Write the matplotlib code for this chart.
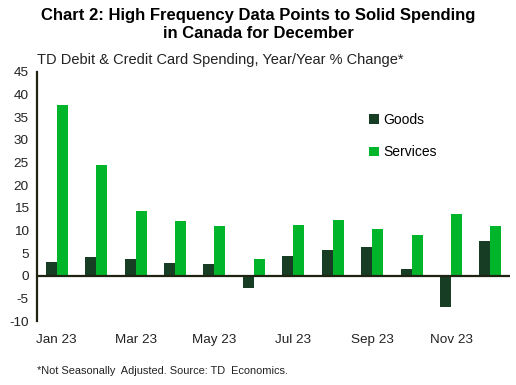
"""TD card spending chart: goods vs services, year/year % change, 2023."""

import matplotlib.pyplot as plt
import numpy as np

plt.rcParams['font.family'] = ['Liberation Sans', 'DejaVu Sans']
plt.rcParams['axes.unicode_minus'] = False

months = ["Jan 23", "Feb 23", "Mar 23", "Apr 23", "May 23", "Jun 23",
          "Jul 23", "Aug 23", "Sep 23", "Oct 23", "Nov 23", "Dec 23"]
goods = [3.0, 4.1, 3.6, 2.8, 2.6, -2.8, 4.3, 5.8, 6.3, 1.5, -6.8, 7.6]
services = [37.8, 24.4, 14.2, 12.2, 10.9, 3.6, 11.3, 12.4, 10.4, 8.9, 13.7, 11.1]
y_ticks = list(range(-10, 50, 5))

GOODS_COLOR = "#173d25"
SERVICES_COLOR = "#00b52a"
AXIS_COLOR = "#1f2312"


def main() -> None:
    figure = plt.figure(figsize=(5.16, 3.85), dpi=100)
    axis = figure.add_axes([0.0717, 0.166, 0.917, 0.647])

    x = np.arange(len(months))
    width = 0.28
    axis.bar(x - width / 2, goods, width, color=GOODS_COLOR, label="Goods")
    axis.bar(x + width / 2, services, width, color=SERVICES_COLOR, label="Services")

    axis.axhline(0, color=AXIS_COLOR, linewidth=1.6, zorder=3)
    axis.set_xlim(-0.5, len(months) - 0.5)
    axis.set_ylim(-10, 45)
    axis.set_yticks(y_ticks)
    axis.set_xticks(x[::2])
    axis.set_xticklabels(months[::2])
    axis.tick_params(axis="both", length=0, labelsize=9.7, colors="#222222")
    axis.tick_params(axis="x", pad=9)
    axis.tick_params(axis="y", pad=6)
    for side in ("top", "right", "bottom"):
        axis.spines[side].set_visible(False)
    axis.spines["left"].set_color(AXIS_COLOR)
    axis.spines["left"].set_linewidth(1.6)

    axis.legend(loc="upper left", bbox_to_anchor=(0.69, 0.857), frameon=False,
                fontsize=10, handlelength=0.7, handleheight=0.7, handletextpad=0.3,
                labelspacing=1.3, borderaxespad=0)

    figure.text(0.5, 0.978, "Chart 2: High Frequency Data Points to Solid Spending\nin Canada for December",
                ha="center", va="top", fontsize=12, fontweight="bold", linespacing=1.2)
    figure.text(0.0717, 0.844, "TD Debit & Credit Card Spending, Year/Year % Change*",
                ha="left", va="center", fontsize=10.5, color="#222222")
    figure.text(0.0717, 0.036, "*Not Seasonally  Adjusted. Source: TD  Economics.",
                ha="left", va="center", fontsize=7.9, color="#222222")

    figure.savefig("out.png", dpi=100)


if __name__ == "__main__":
    main()
